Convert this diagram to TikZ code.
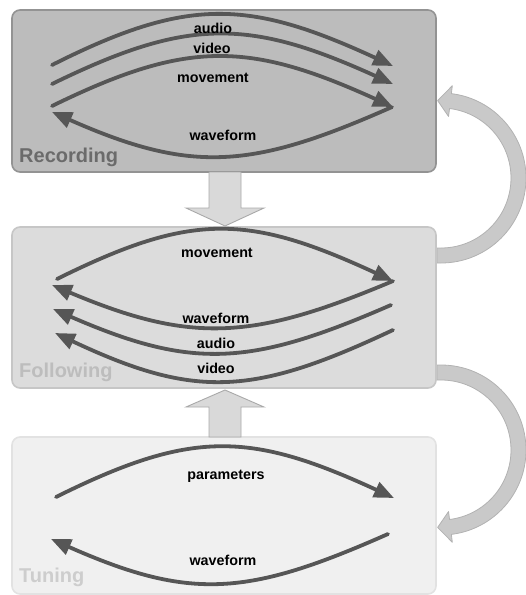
\documentclass[tikz,border=0pt]{standalone}
\usepackage{fontspec}
\setmainfont{Liberation Sans}
\usetikzlibrary{arrows.meta}
\definecolor{recfill}{HTML}{BCBCBC}
\definecolor{recline}{HTML}{939393}
\definecolor{folfill}{HTML}{DCDCDC}
\definecolor{folline}{HTML}{C6C6C6}
\definecolor{tunfill}{HTML}{F0F0F0}
\definecolor{tunline}{HTML}{E2E2E2}
\definecolor{rectext}{HTML}{6B6B6B}
\definecolor{foltext}{HTML}{BDBDBD}
\definecolor{tuntext}{HTML}{CDCDCD}
\definecolor{flowc}{HTML}{565656}
\definecolor{bandfill}{HTML}{C9C9C9}
\definecolor{bandline}{HTML}{B2B2B2}
\definecolor{blockfill}{HTML}{D9D9D9}
\definecolor{blockline}{HTML}{A9A9A9}
\begin{document}
\begin{tikzpicture}[x=1pt,y=-1pt,
  stagebox/.style={rounded corners=8pt, line width=1.6pt, minimum width=424pt, inner sep=0pt},
  stagetitle/.style={anchor=base west, inner sep=0pt, font=\fontsize{20}{24}\selectfont\bfseries},
  flowlabel/.style={anchor=base, inner sep=0pt, text=black, font=\fontsize{14.3}{16}\selectfont\bfseries},
  flow/.style={draw=flowc, line width=3.8pt, line cap=round, -{Triangle[length=20pt,width=16pt]}},
  band/.style={fill=bandfill, draw=bandline, line width=0.8pt, line join=round},
  block/.style={fill=blockfill, draw=blockline, line width=0.9pt, line join=miter}
]
\useasboundingbox (0,0) rectangle (526,595);

% curved feedback bands (behind the boxes)
\coordinate (c1) at (441,178);
\coordinate (c2) at (441,450);
\path[band] (437,263) -- (441,263) arc[start angle=90, end angle=-83, radius=85]
  -- ([shift={(c1)}]-83:93) -- ([shift={(c1)}]-92.5:77.5) -- ([shift={(c1)}]-83:62)
  -- ([shift={(c1)}]-83:70) arc[start angle=-83, end angle=90, radius=70]
  -- (437,248) -- cycle;
\path[band] (437,365) -- (441,365) arc[start angle=-90, end angle=83, radius=85]
  -- ([shift={(c2)}]83:93) -- ([shift={(c2)}]92.5:77.5) -- ([shift={(c2)}]83:62)
  -- ([shift={(c2)}]83:70) arc[start angle=83, end angle=-90, radius=70]
  -- (437,380) -- cycle;

% stage boxes
\node[stagebox, fill=recfill, draw=recline, minimum height=162pt] (rec) at (224,91) {};
\node[stagebox, fill=folfill, draw=folline, minimum height=161pt] (fol) at (224,307.5) {};
\node[stagebox, fill=tunfill, draw=tunline, minimum height=157pt] (tun) at (224,515.5) {};

\node[stagetitle, text=rectext] (rect) at (19,162) {Recording};
\node[stagetitle, text=foltext] (folt) at (19,377) {Following};
\node[stagetitle, text=tuntext] (tunt) at (19,582) {Tuning};

% block arrows between stages
\path[block] (209,172) -- (241,172) -- (241,208) -- (264,208) -- (225,226) -- (186,208) -- (209,208) -- cycle;
\path[block] (209,437) -- (241,437) -- (241,407) -- (264,407) -- (225,390) -- (186,407) -- (209,407) -- cycle;

% Recording flows
\coordinate (ra0) at (52,65);  \coordinate (ra1) at (393,66);
\coordinate (rv0) at (52,84);  \coordinate (rv1) at (393,84);
\coordinate (rm0) at (52,106); \coordinate (rm1) at (393,107);
\coordinate (rw0) at (392,107);\coordinate (rw1) at (52,112);
\draw[flow] (ra0) .. controls +(135,-68) and +(-145,-67) .. (ra1);
\draw[flow] (rv0) .. controls +(135,-66) and +(-145,-66) .. (rv1);
\draw[flow] (rm0) .. controls +(135,-66) and +(-145,-66) .. (rm1);
\draw[flow] (rw0) .. controls +(-140,62) and +(140,62) .. (rw1);
\node[flowlabel] (lra) at (213,33) {audio};
\node[flowlabel] (lrv) at (212,53) {video};
\node[flowlabel] (lrm) at (213,82) {movement};
\node[flowlabel] (lrw) at (223,140) {waveform};

% Following flows
\coordinate (fm0) at (57,279);  \coordinate (fm1) at (393,281);
\coordinate (fw0) at (393,281); \coordinate (fw1) at (52,285);
\coordinate (fa0) at (391,305); \coordinate (fa1) at (53,309);
\coordinate (fv0) at (393,330); \coordinate (fv1) at (55,333);
\draw[flow] (fm0) .. controls +(135,-67) and +(-145,-67) .. (fm1);
\draw[flow] (fw0) .. controls +(-140,59) and +(140,59) .. (fw1);
\draw[flow] (fa0) .. controls +(-140,61) and +(140,61) .. (fa1);
\draw[flow] (fv0) .. controls +(-140,66) and +(140,66) .. (fv1);
\node[flowlabel] (lfm) at (217,257) {movement};
\node[flowlabel] (lfw) at (216,323) {waveform};
\node[flowlabel] (lfa) at (216,348) {audio};
\node[flowlabel] (lfv) at (216,373) {video};

% Tuning flows
\coordinate (tp0) at (56,497);  \coordinate (tp1) at (394,498);
\coordinate (tw0) at (388,534); \coordinate (tw1) at (51,539);
\draw[flow] (tp0) .. controls +(135,-67) and +(-145,-67) .. (tp1);
\draw[flow] (tw0) .. controls +(-140,62) and +(140,62) .. (tw1);
\node[flowlabel] (ltp) at (226,479) {parameters};
\node[flowlabel] (ltw) at (223,565) {waveform};
\end{tikzpicture}
\end{document}
